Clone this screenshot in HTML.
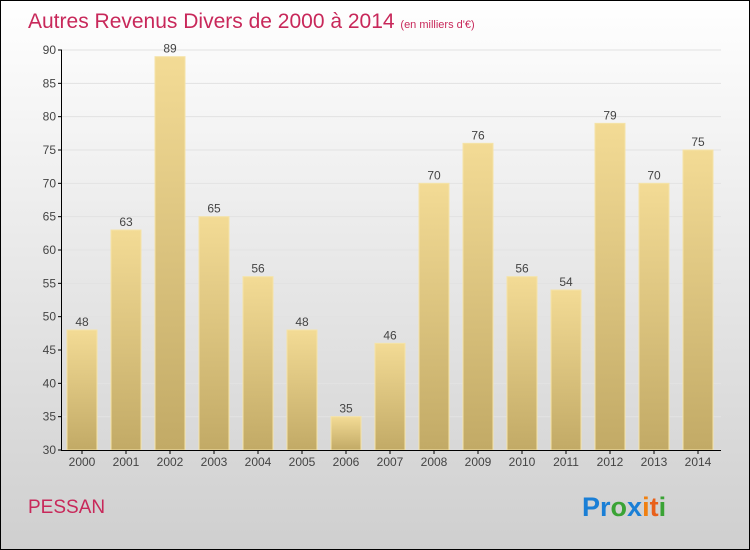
<!DOCTYPE html>
<html><head><meta charset="utf-8"><style>
body{margin:0}
svg{display:block;font-family:"Liberation Sans",sans-serif}
</style></head><body>
<svg id="c" width="750" height="550">
<defs>
<linearGradient id="bg" x1="0" y1="0" x2="0" y2="1"><stop offset="0" stop-color="#ffffff"/><stop offset="1" stop-color="#cfcfcf"/></linearGradient>
<linearGradient id="bar" x1="0" y1="0" x2="0" y2="1"><stop offset="0" stop-color="#f3db95"/><stop offset="1" stop-color="#c2aa66"/></linearGradient>
</defs>
<rect x="0.5" y="0.5" width="749" height="549" fill="url(#bg)" stroke="#000"/>
<text x="28" y="28" font-size="21" fill="#c8285a">Autres Revenus Divers de 2000 à 2014 <tspan font-size="11">(en milliers d'€)</tspan></text>
<g id="grid"></g><g id="bars"></g><g id="axes"></g>
<text x="28" y="513" font-size="19" fill="#c8285a">PESSAN</text>
<text x="582" y="516" font-size="27" font-weight="bold"><tspan fill="#1a7fd6">Pr</tspan><tspan fill="#3aa335">o</tspan><tspan fill="#1a7fd6">x</tspan><tspan fill="#f08010">i</tspan><tspan fill="#e8601a">t</tspan><tspan fill="#3aa335">i</tspan></text>
</svg>
<script>
const years=["2000","2001","2002","2003","2004","2005","2006","2007","2008","2009","2010","2011","2012","2013","2014"];
const values=[48,63,89,65,56,48,35,46,70,76,56,54,79,70,75];
const yTicks=[30,35,40,45,50,55,60,65,70,75,80,85,90];
const NS="http://www.w3.org/2000/svg";
const y=v=>450-(v-30)*400/60;
const x=i=>82+i*44;
function mk(t,a,p){const e=document.createElementNS(NS,t);for(const k in a)e.setAttribute(k,a[k]);p.appendChild(e);return e;}
const G=document.getElementById('grid'),B=document.getElementById('bars'),A=document.getElementById('axes');
yTicks.forEach(v=>{
 const l=mk('line',{x1:62,x2:721,y1:y(v),y2:y(v),stroke:'#e2e2e2'},G);
 
 
 const t=mk('line',{x1:58,x2:62,y1:y(v),y2:y(v),stroke:'#000'},A);
 
 
 const tx=mk('text',{x:56,y:y(v)+4,'text-anchor':'end','font-size':12,fill:'#444'},A);tx.textContent=v;
 
 
});
values.forEach((v,i)=>{
 const r=mk('rect',{x:x(i)-15,y:y(v),width:30,height:450-y(v),fill:'url(#bar)',stroke:'#f5e3a8','stroke-width':1},B);
 
 
 const t=mk('text',{x:x(i),y:y(v)-4,'text-anchor':'middle','font-size':12,fill:'#444'},B);t.textContent=v;
 
 
 const xl=mk('text',{x:x(i),y:466,'text-anchor':'middle','font-size':12,fill:'#444'},A);xl.textContent=years[i];
 
 
 const xt=mk('line',{x1:x(i),x2:x(i),y1:450,y2:454,stroke:'#000'},A);
 
 
});
const ya=mk('line',{x1:61.5,x2:61.5,y1:50,y2:450,stroke:'#000'},A);


const xa=mk('line',{x1:61,x2:721,y1:450.5,y2:450.5,stroke:'#000'},A);


</script>
</body></html>
